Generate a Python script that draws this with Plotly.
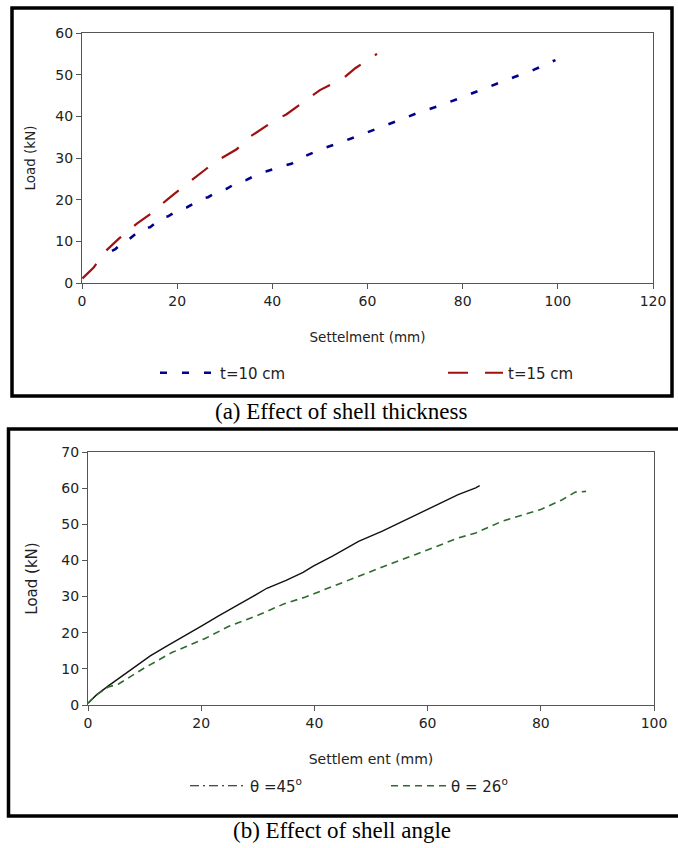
import plotly.graph_objects as go

W, H = 678, 848

# ---- (a) shell thickness: settlement (mm) vs load (kN)
t10_settlement = [6.3, 7.0, 9.0, 10.0, 12.8, 14.3, 17.0, 18.1, 20.6, 22.1, 25.2, 26.5, 29.0, 30.4,
                  33.0, 34.5, 37.4, 38.8, 42.0, 44.0, 46.0, 50.0, 54.5, 58.5, 62.0, 66.5, 70.5,
                  75.0, 79.0, 83.0, 87.0, 91.0, 95.0, 99.5]
t10_load = [7.7, 8.1, 10.3, 10.6, 13.2, 13.4, 15.8, 16.0, 17.8, 18.2, 20.2, 20.6, 22.2, 22.6,
            24.4, 24.7, 26.4, 26.8, 28.0, 28.6, 30.0, 32.0, 33.8, 35.5, 37.0, 39.0, 40.8,
            42.5, 44.2, 46.0, 47.8, 49.5, 51.2, 53.5]

t15_settlement = [0.1, 2.5, 5.0, 7.8, 11.6, 14.4, 18.1, 20.2, 22.6, 26.0, 28.0, 32.5, 35.3,
                  39.9, 43.0, 47.0, 50.0, 55.0, 57.5, 62.0]
t15_load = [1.1, 3.8, 7.7, 10.7, 14.3, 16.6, 20.2, 22.2, 24.3, 27.3, 29.1, 32.1, 35.1,
            38.6, 40.5, 43.8, 46.3, 49.2, 51.6, 55.0]

# ---- (b) shell angle
a45_settlement = [0.0, 1.5, 3.6, 6.0, 8.6, 11.0, 13.6, 17.0, 20.1, 23.0, 26.0, 29.0, 31.6,
                  35.0, 38.0, 39.8, 43.2, 47.8, 52.0, 53.9, 58.1, 61.6, 65.4, 68.5, 69.2]
a45_load = [0.5, 2.8, 5.3, 8.0, 11.1, 13.6, 16.0, 19.0, 21.9, 24.6, 27.2, 29.9, 32.3,
            34.5, 36.7, 38.4, 41.2, 45.3, 48.1, 49.5, 52.7, 55.4, 58.2, 60.1, 60.7]

a26_settlement = [0.0, 1.5, 3.6, 5.4, 9.8, 14.8, 20.7, 24.8, 30.1, 34.8, 38.3, 42.5, 47.8,
                  53.2, 57.8, 61.6, 65.4, 68.5, 73.1, 80.0, 83.8, 86.1, 88.0]
a26_load = [0.5, 2.8, 5.0, 5.8, 10.1, 14.5, 18.4, 21.7, 24.9, 28.1, 29.8, 32.4, 35.6,
            38.9, 41.6, 43.9, 46.2, 47.6, 50.8, 54.1, 56.8, 58.9, 59.1]

x_ticks_a = [0, 20, 40, 60, 80, 100, 120]
y_ticks_a = [0, 10, 20, 30, 40, 50, 60]
x_ticks_b = [0, 20, 40, 60, 80, 100]
y_ticks_b = [0, 10, 20, 30, 40, 50, 60, 70]

FONT = "DejaVu Sans, Verdana, sans-serif"
SERIF = "Liberation Serif, Times New Roman, serif"
AXIS_COLOR = "#555555"
TEXT = "#222222"


def px(x):
    return x / W


def py(y):
    return 1 - y / H


fig = go.Figure()

fig.add_trace(go.Scatter(x=t10_settlement, y=t10_load, mode="lines", name="t=10 cm",
                         line=dict(color="#00008b", width=2.6, dash="7px,15px"),
                         xaxis="x", yaxis="y", legend="legend"))
fig.add_trace(go.Scatter(x=t15_settlement, y=t15_load, mode="lines", name="t=15 cm",
                         line=dict(color="#a01010", width=2.2, dash="20px,17px"),
                         xaxis="x", yaxis="y", legend="legend2"))

# θ=45° curve: densely measured, drawn continuous; the key uses a dash-dot sample
fig.add_trace(go.Scatter(x=a45_settlement, y=a45_load, mode="lines", showlegend=False,
                         line=dict(color="#111111", width=1.4),
                         xaxis="x2", yaxis="y2"))
fig.add_trace(go.Scatter(x=[None], y=[None], mode="lines",
                         name="\u03b8 =45<sup>o</sup>",
                         line=dict(color="#111111", width=1.2, dash="9px,4px,2px,4px"),
                         xaxis="x2", yaxis="y2", legend="legend3"))
fig.add_trace(go.Scatter(x=a26_settlement, y=a26_load, mode="lines",
                         name="\u03b8 = 26<sup>o</sup>",
                         line=dict(color="#2e6b2e", width=1.6, dash="7px,5px"),
                         xaxis="x2", yaxis="y2", legend="legend4"))

axis_common = dict(showline=True, linecolor=AXIS_COLOR, linewidth=1.2, mirror=True,
                   ticks="outside", ticklen=5, tickcolor=AXIS_COLOR, tickwidth=1,
                   showgrid=False, zeroline=False, automargin=False,
                   tickfont=dict(family=FONT, size=14, color=TEXT))
title_font = dict(family=FONT, size=13.5, color=TEXT)


def legend_at(x_px, y_px):
    return dict(orientation="h", x=px(x_px), y=py(y_px), xanchor="left", yanchor="middle",
                itemwidth=55, bgcolor="rgba(0,0,0,0)", borderwidth=0,
                font=dict(family=FONT, size=15, color=TEXT))


fig.update_layout(
    width=W, height=H,
    margin=dict(l=0, r=0, t=0, b=0),
    paper_bgcolor="white", plot_bgcolor="white",
    showlegend=True,
    xaxis=dict(domain=[px(82), px(653)], range=[0, 120], tickvals=x_ticks_a,
               anchor="y", title=dict(text="Settelment (mm)", standoff=24, font=title_font),
               **axis_common),
    yaxis=dict(domain=[py(283), py(33)], range=[0, 60], tickvals=y_ticks_a,
               anchor="x", title=dict(text="Load (kN)", standoff=16, font=title_font),
               **axis_common),
    xaxis2=dict(domain=[px(88), px(654)], range=[0, 100], tickvals=x_ticks_b,
                anchor="y2",
                title=dict(text="Settlem ent (mm)", standoff=24,
                           font=dict(family=FONT, size=14, color=TEXT)),
                **axis_common),
    yaxis2=dict(domain=[py(705), py(452)], range=[0, 70], tickvals=y_ticks_b,
                anchor="x2",
                title=dict(text="Load (kN)", standoff=20,
                           font=dict(family=FONT, size=15, color=TEXT)),
                **axis_common),
    legend=legend_at(155, 373),
    legend2=legend_at(443, 373),
    legend3=legend_at(185, 786),
    legend4=legend_at(386, 786),
    shapes=[
        dict(type="rect", xref="paper", yref="paper",
             x0=px(12), x1=px(672), y0=py(8), y1=py(396),
             line=dict(color="black", width=3.5), fillcolor="rgba(0,0,0,0)"),
        dict(type="rect", xref="paper", yref="paper",
             x0=px(8.5), x1=px(685), y0=py(429), y1=py(816),
             line=dict(color="black", width=3.5), fillcolor="rgba(0,0,0,0)"),
    ],
    annotations=[
        dict(text="(a) Effect of shell thickness", xref="paper", yref="paper",
             x=px(341), y=py(411), xanchor="center", yanchor="middle", showarrow=False,
             font=dict(family=SERIF, size=23, color="black")),
        dict(text="(b) Effect of shell angle", xref="paper", yref="paper",
             x=px(342), y=py(830), xanchor="center", yanchor="middle", showarrow=False,
             font=dict(family=SERIF, size=23, color="black")),
    ],
)

fig.write_html("out.html")
